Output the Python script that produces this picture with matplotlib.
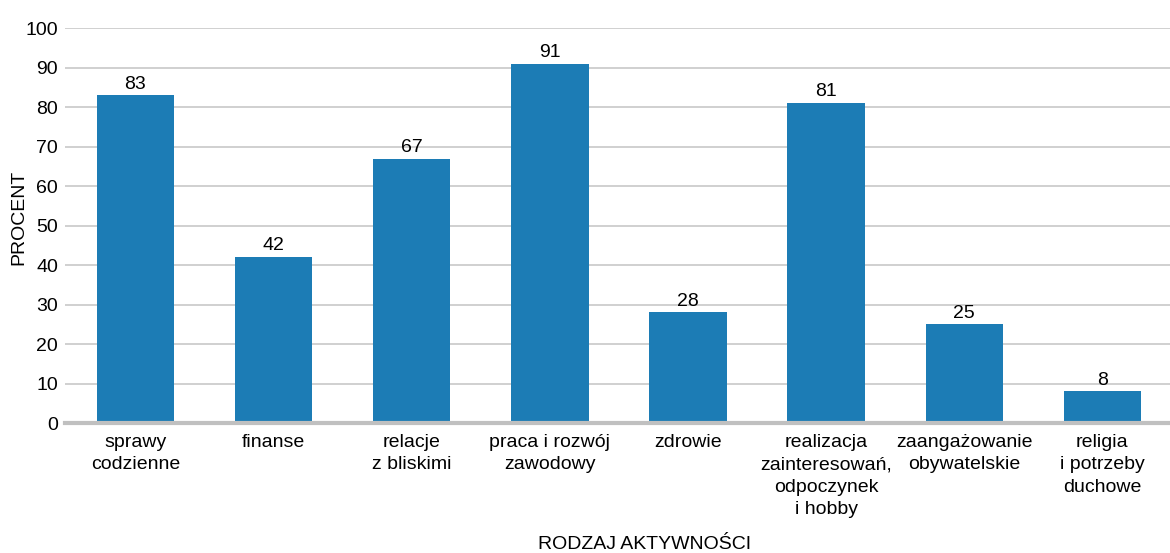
import matplotlib
matplotlib.use("Agg")
import matplotlib.pyplot as plt
import numpy as np

plt.rcParams['font.family'] = ['Liberation Sans', 'DejaVu Sans']

categories = ["sprawy\ncodzienne", "finanse", "relacje\nz bliskimi", "praca i rozwój\nzawodowy",
              "zdrowie", "realizacja\nzainteresowań,\nodpoczynek\ni hobby",
              "zaangażowanie\nobywatelskie", "religia\ni potrzeby\nduchowe"]
values = [83, 42, 67, 91, 28, 81, 25, 8]

fs = 14
fig = plt.figure(figsize=(11.7, 5.53), dpi=100)
ax = fig.add_axes([0.0556, 0.235, 0.9444, 0.714])

x = np.arange(len(categories))
bars = ax.bar(x + 0.01, values, width=0.56, color="#1c7cb5", zorder=3)
for b, v in zip(bars, values):
    ax.text(b.get_x() + b.get_width() / 2, v + 0.7, str(v), ha="center", va="bottom", fontsize=fs)

ax.set_xlim(-0.5, len(categories) - 0.5)
ax.set_ylim(0, 100)
ax.set_yticks(range(0, 101, 10))
ax.yaxis.grid(True, color="#c8c8c8", linewidth=1.2, zorder=0)
ax.set_xticks(x + 0.01)
ax.set_xticklabels(categories, fontsize=fs, linespacing=1.4)
ax.tick_params(axis="y", labelsize=fs, length=0, pad=5)
ax.tick_params(axis="x", length=0, pad=8)
for s in ["top", "right", "left"]:
    ax.spines[s].set_visible(False)
ax.spines["bottom"].set_color("#c0c0c0")
ax.spines["bottom"].set_linewidth(3)
ax.spines["bottom"].set_zorder(4)

fig.text(19 / 1170, 1 - 217 / 553, "PROCENT", rotation=90, ha="center", va="center", fontsize=fs)
fig.text(0.551, 0.0, "RODZAJ AKTYWNOŚCI", ha="center", va="bottom", fontsize=fs)

fig.savefig("out.png", dpi=100)
